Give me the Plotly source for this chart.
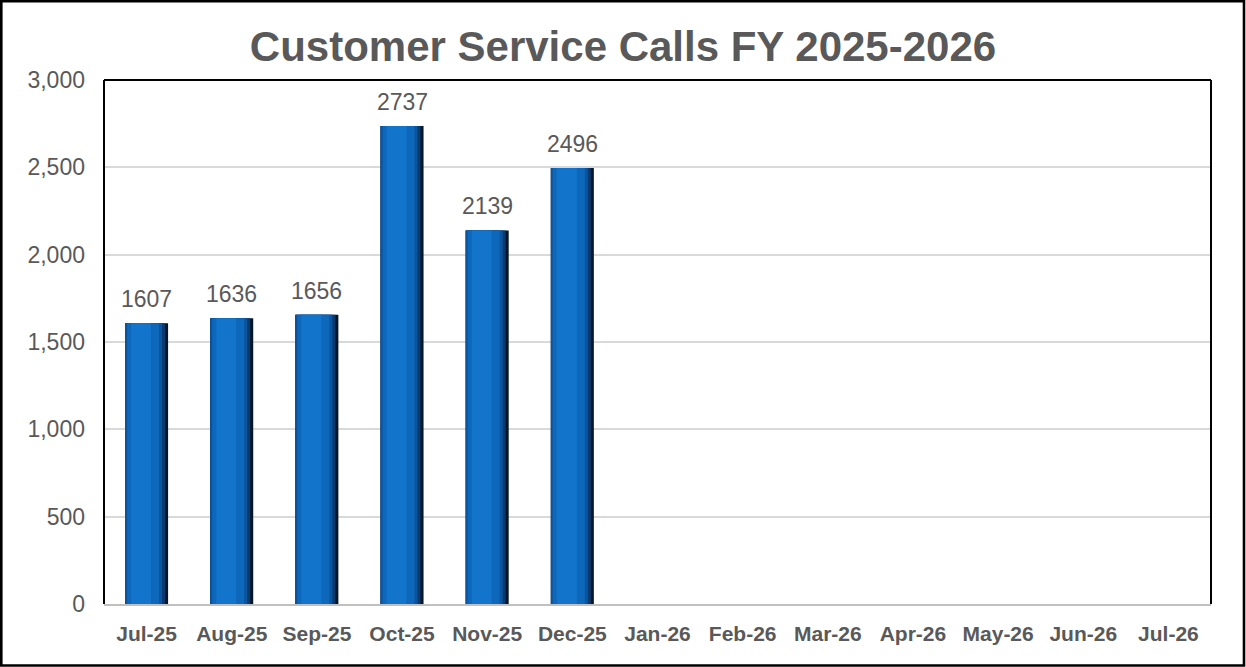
import plotly.graph_objects as go

months = ["Jul-25", "Aug-25", "Sep-25", "Oct-25", "Nov-25", "Dec-25", "Jan-26",
          "Feb-26", "Mar-26", "Apr-26", "May-26", "Jun-26", "Jul-26"]
calls = [1607, 1636, 1656, 2737, 2139, 2496, None, None, None, None, None, None, None]

W, H = 1246, 667
ML, MR, MT, MB = 104, 35, 80, 63
pw, ph = W - ML - MR, H - MT - MB
px = 1.0 / (pw / len(months))   # one pixel in category units
BW = 43 * px                     # bar width

FONT = "Liberation Sans, Arial, sans-serif"
GREY = "#595959"

fig = go.Figure()
# layered bars imitating the cylinder shading: (left inset px, width px, colour)
layers = [
    (0, 43, "#051628"),
    (0, 40, "#0a3a6e"),
    (0, 37, "#0b559f"),
    (2, 32, "#0d67ba"),
    (6, 20, "#1274ca"),
]
for left, w, col in layers:
    fig.add_trace(go.Bar(
        x=months, y=calls, width=w * px, offset=-BW / 2 + left * px,
        marker=dict(color=col, line=dict(width=0)),
        hoverinfo="skip", showlegend=False,
    ))

fig.update_layout(
    width=W, height=H, autosize=False,
    margin=dict(l=ML, r=MR, t=MT, b=MB),
    paper_bgcolor="white", plot_bgcolor="white",
    barmode="overlay",
    title=dict(text="<b>Customer Service Calls FY 2025-2026</b>", x=0.5, xanchor="center",
               xref="container", y=1 - 46 / H, yanchor="middle",
               font=dict(family=FONT, size=42, color=GREY)),
    font=dict(family=FONT, color=GREY),
    xaxis=dict(type="category", categoryarray=months, showgrid=False,
               tickfont=dict(size=21, color=GREY, family=FONT, weight="bold"),
               ticks="", ticklabelstandoff=10,
               showline=True, linecolor="#c0c0c0", linewidth=2),
    yaxis=dict(range=[0, 3000], dtick=500, tickformat=",", showgrid=True,
               gridcolor="#d9d9d9", gridwidth=1.5, zeroline=False,
               tickfont=dict(size=23, color=GREY, family=FONT),
               ticks="", ticklabelstandoff=18, showline=False),
)
# data labels above the bars
for m, v in zip(months, calls):
    if v is not None:
        fig.add_annotation(x=m, y=v, text=str(v), showarrow=False, yanchor="bottom",
                           yshift=9, font=dict(family=FONT, size=23, color=GREY))
# plot-area border: left, top, right in black
for x0, y0, x1, y1 in [(0, 0, 0, 1), (0, 1, 1, 1), (1, 0, 1, 1)]:
    fig.add_shape(type="line", xref="paper", yref="paper", x0=x0, y0=y0, x1=x1, y1=y1,
                  line=dict(color="black", width=2))
# outer chart border
fig.add_shape(type="rect", xref="paper", yref="paper",
              x0=(1.3 - ML) / pw, x1=(W - 2 - ML) / pw,
              y0=-(MB - 1.5) / ph, y1=1 + (MT - 1.3) / ph,
              line=dict(color="black", width=2.6), fillcolor="rgba(0,0,0,0)", layer="above")

fig.write_html("out.html", config={"displayModeBar": False},
               post_script="document.body.style.margin='0';document.body.style.overflow='hidden';")
